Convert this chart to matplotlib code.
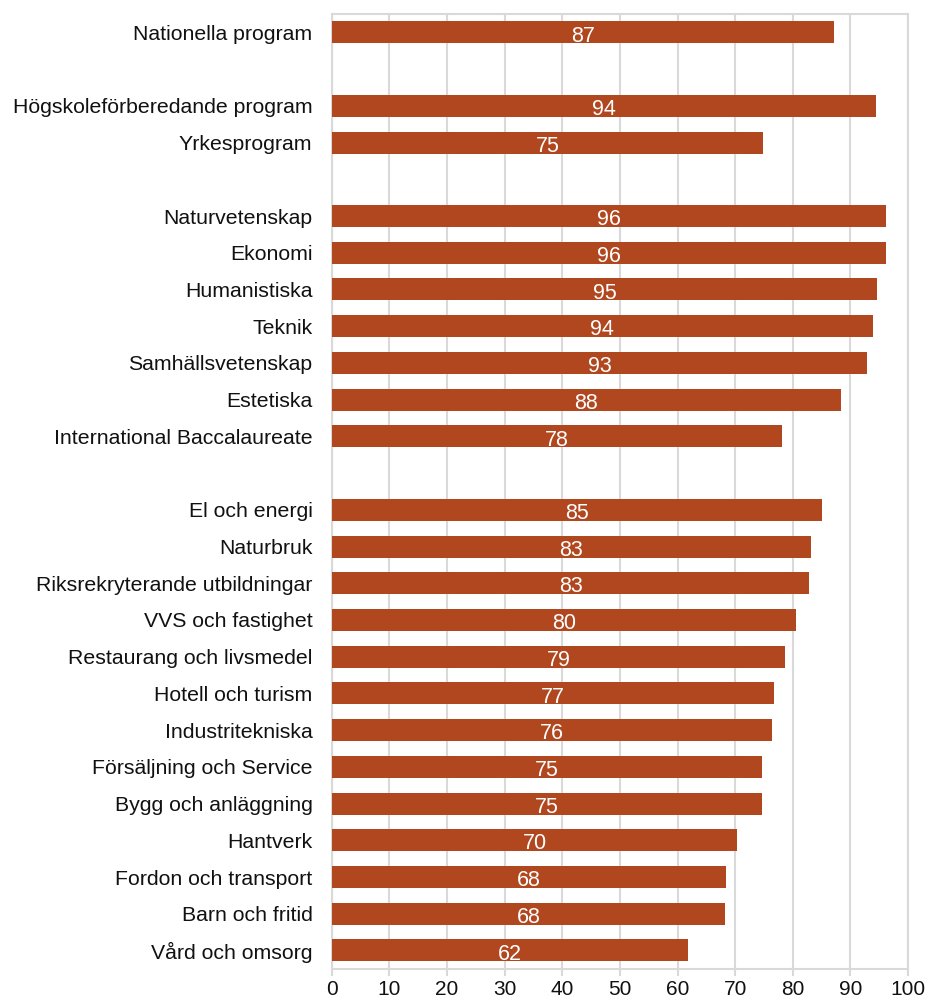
import numpy as np
import matplotlib.pyplot as plt

plt.rcParams['font.family'] = ['Liberation Sans', 'DejaVu Sans']

# empty strings are spacer rows between the groups
categories = [
    "Nationella program", "",
    "Högskoleförberedande program", "Yrkesprogram", "",
    "Naturvetenskap", "Ekonomi", "Humanistiska", "Teknik", "Samhällsvetenskap",
    "Estetiska", "International Baccalaureate", "",
    "El och energi", "Naturbruk", "Riksrekryterande utbildningar", "VVS och fastighet",
    "Restaurang och livsmedel", "Hotell och turism", "Industritekniska",
    "Försäljning och Service", "Bygg och anläggning", "Hantverk",
    "Fordon och transport", "Barn och fritid", "Vård och omsorg",
]
values = [
    87.2, np.nan,
    94.4, 74.9, np.nan,
    96.2, 96.1, 94.6, 93.9, 92.9, 88.3, 78.1, np.nan,
    85.1, 83.1, 82.9, 80.5, 78.7, 76.8, 76.4, 74.7, 74.6, 70.4, 68.4, 68.2, 61.9,
]

bar_color = "#B0471F"
grid_color = "#D9D9D9"

fig = plt.figure(figsize=(9.27, 10.05), dpi=100)
ax = fig.add_axes([0.358, 0.036, 0.6215, 0.950])

y = np.arange(len(categories))
vals = np.array(values, dtype=float)
mask = ~np.isnan(vals)
ax.barh(y[mask], vals[mask], height=0.6, color=bar_color, zorder=3)

for yi, v in zip(y[mask], vals[mask]):
    ax.text(v / 2, yi + 0.1, f"{v:.0f}", ha="center", va="center",
            color="white", fontsize=15.5, zorder=4)

ax.set_xlim(0, 100)
ax.set_ylim(len(categories) - 0.5, -0.5)
ax.set_xticks(np.arange(0, 101, 10))
ax.set_yticks(y)
ax.set_yticklabels(categories)

ax.grid(axis="x", color=grid_color, linewidth=1.5, zorder=0)
ax.set_axisbelow(True)
for side in ["top", "right", "left", "bottom"]:
    ax.spines[side].set_color(grid_color)
    ax.spines[side].set_linewidth(1.5)

ax.tick_params(axis="y", length=0, pad=14, labelsize=15.3, labelcolor="#111111")
ax.tick_params(axis="x", length=5, width=1.5, color=grid_color, pad=3,
               labelsize=15, labelcolor="#111111")

fig.savefig("out.png", dpi=100)
